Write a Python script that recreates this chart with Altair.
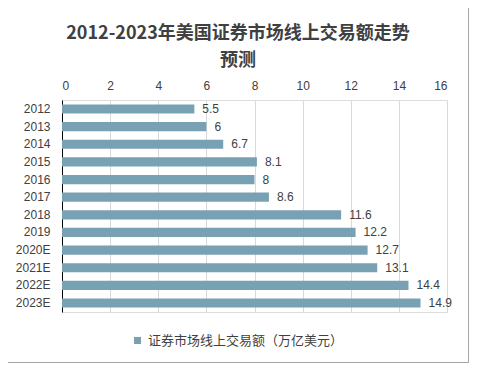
import altair as alt
import pandas as pd

years = ["2012", "2013", "2014", "2015", "2016", "2017", "2018", "2019",
         "2020E", "2021E", "2022E", "2023E"]
values = [5.5, 6, 6.7, 8.1, 8, 8.6, 11.6, 12.2, 12.7, 13.1, 14.4, 14.9]
series_name = "证券市场线上交易额（万亿美元）"
x_ticks = [0, 2, 4, 6, 8, 10, 12, 14, 16]
title_lines = ["2012-2023年美国证券市场线上交易额走势", "预测"]

df = pd.DataFrame({"year": years, "value": values, "series": [series_name] * len(years)})

CJK = "Noto Sans CJK SC"
LAT = "Liberation Sans"
TXT = "#404040"

y_enc = alt.Y("year:N", sort=years,
              scale=alt.Scale(paddingInner=0.48, paddingOuter=0.25),
              axis=alt.Axis(title=None, ticks=False, grid=False, domainColor="#000000",
                            domainWidth=1, labelPadding=12, labelFontSize=12,
                            labelColor=TXT, labelFont=LAT))
x_enc = alt.X("value:Q", scale=alt.Scale(domain=[0, 16], nice=False),
              axis=alt.Axis(orient="top", values=x_ticks, title=None, ticks=False,
                            domain=False, grid=True, gridColor="#D9D9D9", labelPadding=8,
                            labelFontSize=12, labelColor=TXT, labelFont=LAT))

base = alt.Chart(df)
bars = base.mark_bar().encode(
    y=y_enc, x=x_enc,
    color=alt.Color("series:N", scale=alt.Scale(range=["#78A1B4"]),
                    legend=alt.Legend(title=None, orient="none", legendX=69, legendY=234,
                                      symbolType="square", symbolSize=50, symbolStrokeWidth=0,
                                      labelFont=CJK, labelFontSize=13, labelColor=TXT,
                                      labelLimit=400, padding=0)))
labels = base.mark_text(align="left", dx=8, fontSize=12, color=TXT, font=LAT).encode(
    y=alt.Y("year:N", sort=years), x=alt.X("value:Q"), text=alt.Text("value:Q"))

one = pd.DataFrame({"a": [0]})
frame = alt.Chart(one).mark_rect(
    fill=None, stroke="#A6A6A6", strokeWidth=1).encode(
    x=alt.value(-54.5), x2=alt.value(406.5), y=alt.value(-92.5), y2=alt.value(262.5))

title = alt.Chart(one).mark_text(
    text=title_lines, font=CJK, fontSize=18, fontWeight="bold", color=TXT,
    align="center", baseline="top", lineHeight=27).encode(
    x=alt.value(176), y=alt.value(-75))

chart = alt.layer(frame, title, bars, labels).properties(
    width=385, height=212,
    autosize=alt.AutoSizeParams(type="none"),
    padding={"left": 54, "top": 92, "right": 30, "bottom": 51},
).configure_view(stroke=None).configure(background="white")

chart.save("out.html", embed_options={"renderer": "svg", "actions": False})
